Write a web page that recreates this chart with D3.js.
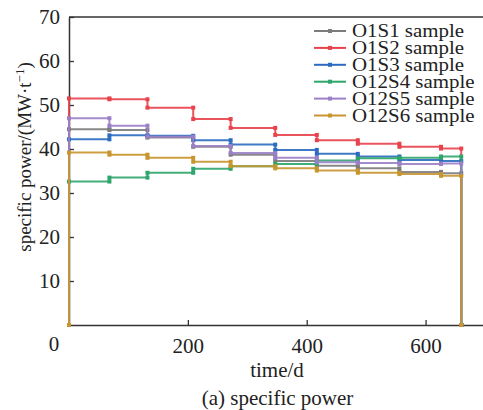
<!DOCTYPE html>
<html>
<head>
<meta charset="utf-8">
<script src="https://cdn.jsdelivr.net/npm/d3@7/dist/d3.min.js"></script>
<style>
  html, body { margin: 0; padding: 0; background: #fff; }
  svg { display: block; }
</style>
</head>
<body>
<svg id="chart" width="483" height="410" font-family="Liberation Serif"></svg>
<script>
// Step boundaries (days) of the irradiation periods
const days = [0, 68, 132, 209, 272, 347, 417, 486, 556, 626, 660];

// Specific power in each period, MW/t
const o1s1  = [44.5, 44.3, 42.6, 40.5, 38.7, 37.3, 36.2, 35.6, 34.8, 34.5];
const o1s2  = [51.5, 51.3, 49.4, 46.8, 44.8, 43.2, 42.0, 41.2, 40.5, 40.1];
const o1s3  = [42.2, 43.1, 43.0, 42.0, 41.0, 39.8, 38.9, 38.3, 37.5, 37.3];
const o12s4 = [32.6, 33.5, 34.6, 35.5, 36.1, 36.6, 37.4, 37.9, 38.0, 38.3];
const o12s5 = [47.0, 45.3, 42.8, 40.7, 39.1, 38.0, 37.0, 36.8, 36.6, 36.7];
const o12s6 = [39.2, 38.7, 38.0, 37.1, 36.1, 35.6, 35.1, 34.6, 34.3, 33.9];

const seriesNames = ["O1S1 sample", "O1S2 sample", "O1S3 sample", "O12S4 sample", "O12S5 sample", "O12S6 sample"];
const seriesValues = [o1s1, o1s2, o1s3, o12s4, o12s5, o12s6];
const seriesColors = ["#7c7c7c", "#e8424b", "#2b6cc0", "#2ea56a", "#9b80c8", "#c8952e"];

const xTicks = [200, 400, 600];
const yTicks = [10, 20, 30, 40, 50, 60, 70];

const FONT = "Liberation Serif";
const TEXT = "#222";

const svg = d3.select("#chart");
const x = d3.scaleLinear().domain([0, 700]).range([69, 485]);
const y = d3.scaleLinear().domain([0, 70]).range([325, 17]);

const axisColor = "#333";

// Axes with inward ticks
const gx = svg.append("g").attr("transform", `translate(0,${y(0)})`)
  .call(d3.axisBottom(x).tickValues(xTicks).tickSize(-5).tickPadding(13).tickSizeOuter(0));
const gy = svg.append("g").attr("transform", `translate(${x(0)},0)`)
  .call(d3.axisLeft(y).tickValues(yTicks).tickSize(-5).tickPadding(9).tickSizeOuter(0));
[gx, gy].forEach(g => {
  g.attr("font-family", FONT).attr("font-size", 21);
  g.select(".domain").attr("stroke", axisColor).attr("stroke-width", 1.5);
  g.selectAll(".tick line").attr("stroke", axisColor).attr("stroke-width", 1.3);
  g.selectAll(".tick text").attr("fill", TEXT)
    .attr("font-family", FONT).attr("font-size", 21);
});
gx.selectAll(".tick text").attr("dy", "0.71em");
// top frame line
svg.append("line")
  .attr("x1", x(0)).attr("x2", x(700)).attr("y1", y(70)).attr("y2", y(70))
  .attr("stroke", axisColor).attr("stroke-width", 1.5);

// shared origin label
svg.append("text")
  .attr("x", x(0) - 15).attr("y", y(0) + 26)
  .attr("text-anchor", "middle").attr("fill", TEXT)
  .attr("font-family", FONT).attr("font-size", 21)
  .text("0");

// Build step paths: rise from zero, hold each period, drop to zero at the end
function stepPoints(vals) {
  const pts = [[days[0], 0]];
  vals.forEach((v, i) => {
    pts.push([days[i], v]);
    pts.push([days[i + 1], v]);
  });
  pts.push([days[days.length - 1], 0]);
  return pts;
}

const line = d3.line().x(d => x(d[0])).y(d => y(d[1]));

seriesValues.forEach((vals, si) => {
  const pts = stepPoints(vals);
  const g = svg.append("g");
  g.append("path")
    .attr("d", line(pts))
    .attr("fill", "none")
    .attr("stroke", seriesColors[si])
    .attr("stroke-width", 2)
    .attr("stroke-opacity", 0.9);
  g.selectAll("rect").data(pts).enter().append("rect")
    .attr("x", d => x(d[0]) - 2)
    .attr("y", d => y(d[1]) - 2)
    .attr("width", 4).attr("height", 4)
    .attr("fill", seriesColors[si]);
});

// Legend
const legend = svg.append("g");
seriesNames.forEach((name, i) => {
  const cy = 31 + i * 16.9;
  legend.append("line")
    .attr("x1", 314).attr("x2", 346).attr("y1", cy).attr("y2", cy)
    .attr("stroke", seriesColors[i]).attr("stroke-width", 2);
  legend.append("rect")
    .attr("x", 328).attr("y", cy - 2).attr("width", 4).attr("height", 4)
    .attr("fill", seriesColors[i]);
  const t = legend.append("text")
    .attr("x", 352).attr("y", cy + 6)
    .attr("fill", TEXT)
    .attr("font-family", FONT).attr("font-size", 18.5)
    .text(name);
  // the legend lettering is set slightly wide
  const w = t.node().getComputedTextLength();
  t.attr("textLength", w * 1.13).attr("lengthAdjust", "spacingAndGlyphs");
});

// Axis titles and caption
svg.append("text")
  .attr("x", 277).attr("y", 377)
  .attr("text-anchor", "middle").attr("fill", TEXT)
  .attr("font-family", FONT).attr("font-size", 21)
  .text("time/d");
svg.append("text")
  .attr("x", 277.5).attr("y", 405)
  .attr("text-anchor", "middle").attr("fill", TEXT)
  .attr("font-family", FONT).attr("font-size", 21)
  .text("(a) specific power");

const yl = svg.append("text")
  .attr("transform", "translate(31,157) rotate(-90)")
  .attr("text-anchor", "middle").attr("fill", TEXT)
  .attr("font-family", FONT).attr("font-size", 19);
yl.append("tspan").text("specific power/(MW·t");
yl.append("tspan").attr("font-size", 13).attr("dy", -7).text("−1");
yl.append("tspan").attr("dy", 7).text(")");
</script>
</body>
</html>
